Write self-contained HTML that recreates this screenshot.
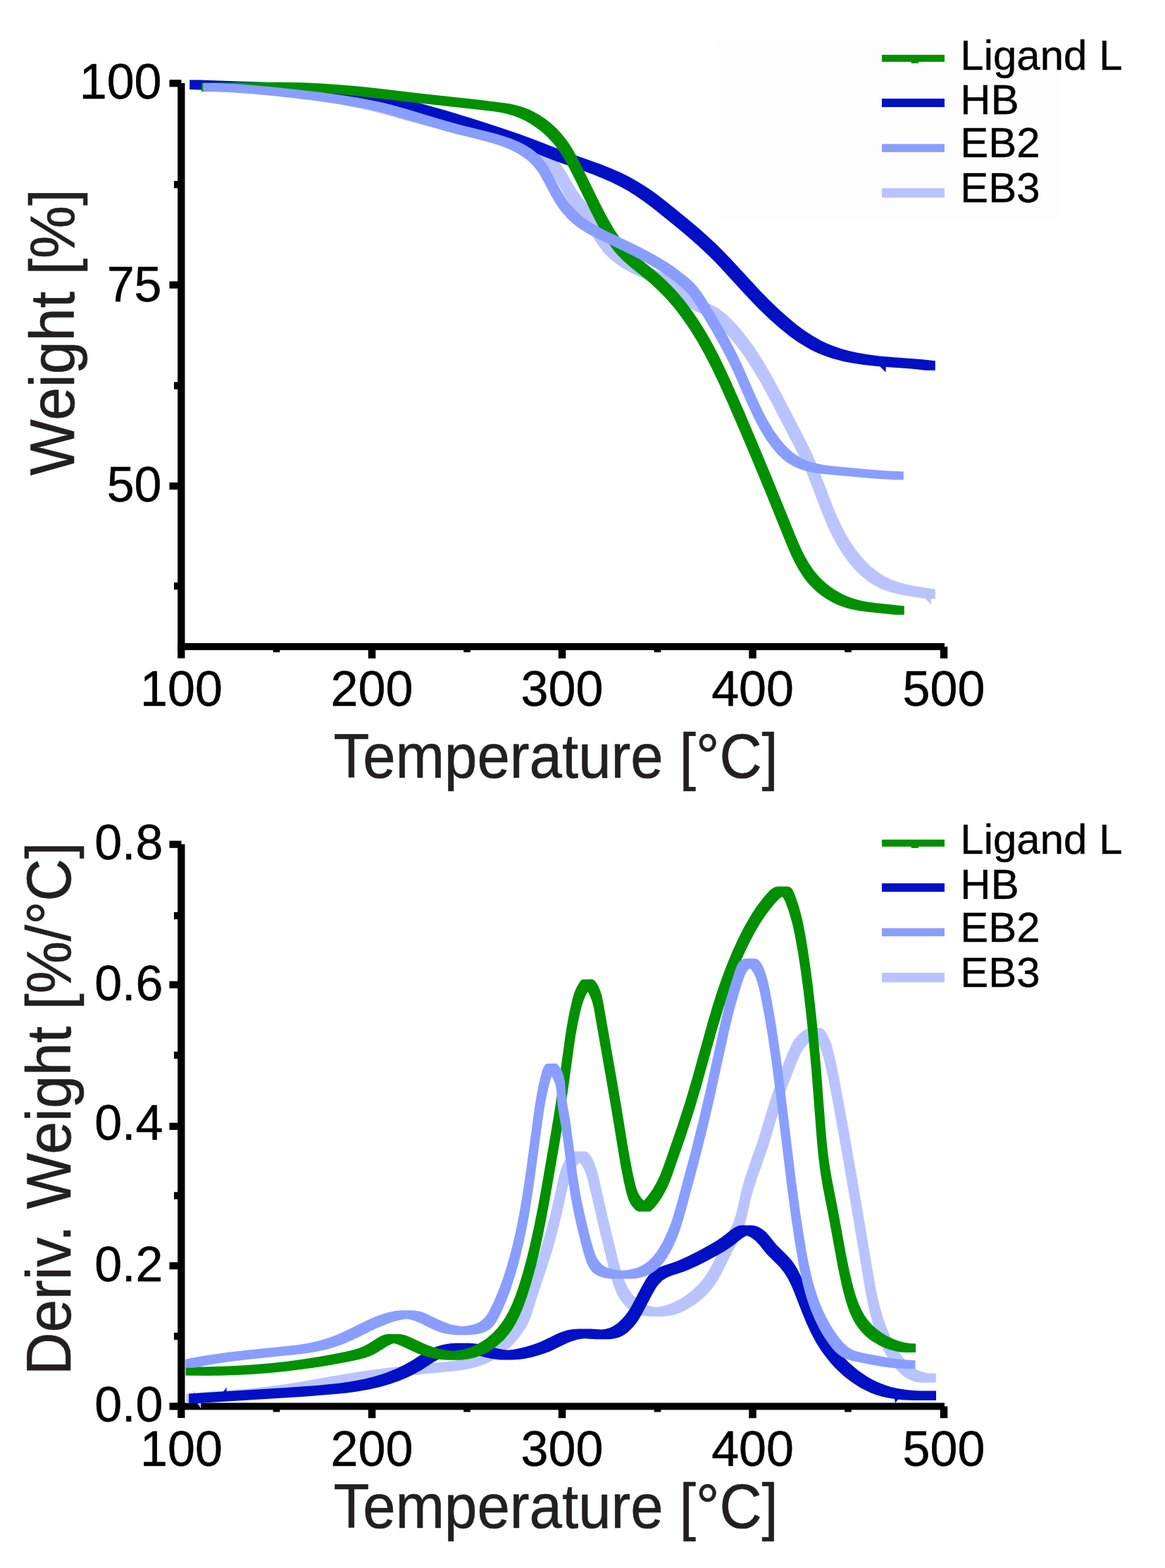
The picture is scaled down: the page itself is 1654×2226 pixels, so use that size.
<!DOCTYPE html>
<html><head><meta charset="utf-8"><style>
html,body{margin:0;padding:0;background:#fff;}
svg{display:block;}
.tk{font-family:"Liberation Sans",sans-serif;font-size:70px;fill:#000;stroke:#000;stroke-width:0.5px;}
.ax{font-family:"Liberation Sans",sans-serif;font-size:84px;fill:#231f20;stroke:#231f20;stroke-width:0.6px;}
.lg{font-family:"Liberation Sans",sans-serif;font-size:60px;fill:#000;stroke:#000;stroke-width:0.4px;}
</style></head><body>
<svg width="1654" height="2226" viewBox="0 0 1654 2226">
<rect width="1654" height="2226" fill="#fff"/>
<rect x="1020.5" y="58.5" width="485" height="255" fill="#fdfdfd"/>
<rect x="252.2" y="118.1" width="10.3" height="816.4" fill="#000"/>
<rect x="252.2" y="913.0" width="1088.8" height="10" fill="#000"/>
<rect x="240.5" y="113.2" width="17" height="10.2" fill="#000"/>
<rect x="240.5" y="399.4" width="17" height="10.2" fill="#000"/>
<rect x="240.5" y="684.9" width="17" height="10.2" fill="#000"/>
<rect x="247" y="256.9" width="10" height="10.2" fill="#000"/>
<rect x="247" y="542.4" width="10" height="10.2" fill="#000"/>
<rect x="247" y="826.9" width="10" height="10.2" fill="#000"/>
<rect x="522.8" y="918.0" width="10.5" height="16.7" fill="#000"/>
<rect x="792.8" y="918.0" width="10.5" height="16.7" fill="#000"/>
<rect x="1063.3" y="918.0" width="10.5" height="16.7" fill="#000"/>
<rect x="1334.8" y="918.0" width="10.5" height="16.7" fill="#000"/>
<rect x="387.7" y="918.0" width="9.6" height="8.0" fill="#000"/>
<rect x="658.2" y="918.0" width="9.6" height="8.0" fill="#000"/>
<rect x="928.7" y="918.0" width="9.6" height="8.0" fill="#000"/>
<rect x="1199.2" y="918.0" width="9.6" height="8.0" fill="#000"/>
<text x="257.5" y="1002.4" text-anchor="middle" class="tk">100</text>
<text x="528.0" y="1002.4" text-anchor="middle" class="tk">200</text>
<text x="798.0" y="1002.4" text-anchor="middle" class="tk">300</text>
<text x="1068.6" y="1002.4" text-anchor="middle" class="tk">400</text>
<text x="1340.0" y="1002.4" text-anchor="middle" class="tk">500</text>
<text x="229.5" y="139.8" text-anchor="end" class="tk">100</text>
<text x="229.5" y="427.9" text-anchor="end" class="tk">75</text>
<text x="229.5" y="711.7" text-anchor="end" class="tk">50</text>
<text transform="translate(473.5,1104) scale(0.993,1.05)" class="ax">Temperature [°C]</text>
<text transform="translate(105,675) rotate(-90) scale(1.005,1.05)" class="ax">Weight [%]</text>
<path d="M305.3 130.3 331.5 131.4 357.5 133.0 383.4 135.2 411.2 138.1 438.9 141.6 466.5 145.6 490.1 149.7 513.6 154.4 527.3 157.5 541.0 161.0 580.1 172.0 595.7 176.1 615.2 180.7 667.5 192.4 682.9 196.3 698.2 200.6 717.2 206.9 726.6 210.4 736.0 214.4 743.4 217.8 750.7 221.5 757.7 225.6 764.4 230.0 770.7 234.9 775.1 238.8 780.6 244.5 784.2 249.1 790.8 259.0 800.8 276.5 805.1 283.4 809.8 290.1 819.5 302.9 825.2 310.9 849.0 347.5 856.5 357.4 860.5 361.9 864.8 366.1 870.8 371.3 877.2 376.0 883.8 380.4 890.7 384.4 897.7 388.0 906.8 392.3 934.4 403.9 939.7 406.5 944.9 409.4 949.8 412.7 953.0 415.1 957.5 419.1 967.7 428.9 974.1 433.8 979.1 437.1 984.3 440.0 1002.1 448.8 1008.8 453.0 1013.5 456.6 1018.0 460.4 1026.5 468.7 1036.0 478.9 1046.1 491.3 1058.0 507.6 1070.0 526.3 1082.2 547.2 1095.5 571.7 1132.1 642.5 1139.2 657.1 1144.0 668.2 1148.6 679.4 1164.2 720.6 1170.1 735.4 1175.5 748.2 1181.5 760.7 1189.0 774.7 1196.4 786.6 1204.7 798.1 1212.5 807.3 1218.1 813.1 1222.4 817.2 1228.6 822.3 1233.3 825.9 1240.0 830.2 1245.2 833.1 1250.6 835.7 1256.2 837.9 1263.9 840.5 1271.7 842.6 1279.7 844.4 1289.8 846.3 1314.2 850.1 1327.8 850.1 1327.8 836.6 1301.3 832.4 1285.2 829.1 1277.4 827.0 1271.6 825.1 1266.0 823.0 1260.5 820.5 1255.2 817.7 1248.5 813.5 1242.1 808.8 1235.9 803.7 1230.1 798.2 1224.6 792.3 1219.4 786.1 1214.5 779.7 1208.8 771.5 1203.5 762.9 1197.7 752.5 1192.4 741.9 1187.4 731.0 1182.8 720.0 1162.8 667.8 1157.5 654.7 1152.7 643.6 1145.6 629.0 1109.9 559.9 1100.5 542.4 1092.7 528.4 1085.6 516.3 1078.1 504.2 1071.5 494.1 1064.5 484.3 1057.2 474.7 1049.5 465.4 1042.8 458.1 1037.2 452.4 1031.5 446.9 1025.4 441.9 1020.7 438.4 1015.6 435.3 997.8 426.5 992.6 423.6 987.6 420.3 981.2 415.4 968.0 402.9 961.7 398.0 956.7 394.9 949.7 391.3 920.3 378.8 911.2 374.5 904.2 370.9 897.3 366.9 890.7 362.5 884.3 357.8 878.3 352.6 874.0 348.4 870.0 343.9 862.5 334.0 838.7 297.4 833.0 289.4 823.3 276.6 818.6 269.9 814.3 263.0 804.3 245.5 797.7 235.6 794.1 231.0 788.6 225.3 784.2 221.4 777.9 216.5 771.2 212.1 764.2 208.0 756.9 204.3 749.5 200.9 740.1 196.9 728.8 192.7 719.3 189.5 707.8 186.0 694.4 182.3 679.1 178.5 628.7 167.2 609.2 162.6 593.6 158.5 558.5 148.5 542.8 144.5 523.2 140.1 501.6 135.8 476.1 131.5 448.5 127.6 420.7 124.2 392.9 121.4 365.0 119.1 338.9 117.6 310.8 116.6 290.2 116.4 290.2 129.9Z" fill="#b9c4ff" fill-rule="evenodd"/>
<polygon points="1313.0,849.0 1322.0,849.0 1321.5,858.3" fill="#b9c4ff"/>
<path d="M269.2 127.0 346.6 129.6 378.7 131.0 410.7 132.8 438.7 134.9 466.5 137.8 492.3 141.2 516.0 145.1 541.5 150.2 572.8 157.5 605.9 166.4 642.6 177.3 688.4 191.8 711.1 199.4 730.0 206.0 788.4 228.4 840.9 247.3 855.6 253.2 868.3 258.8 880.7 265.0 891.2 270.8 901.5 277.2 913.2 285.2 926.3 295.0 940.7 306.4 962.6 324.3 977.7 337.0 991.1 348.8 1004.1 360.9 1013.9 370.6 1023.6 380.7 1056.2 416.3 1068.6 429.4 1081.2 442.2 1094.4 454.7 1108.1 466.7 1120.8 476.9 1132.3 485.2 1144.2 492.6 1151.2 496.4 1158.3 499.9 1165.4 503.1 1174.6 506.5 1182.1 509.0 1191.5 511.6 1199.2 513.4 1209.0 515.3 1224.8 517.7 1245.0 519.9 1293.6 523.6 1314.2 525.7 1327.8 525.7 1327.8 512.2 1307.1 510.1 1266.6 507.1 1248.4 505.4 1230.4 503.1 1214.6 500.3 1205.0 498.1 1197.4 496.0 1188.1 493.0 1180.8 490.3 1173.5 487.2 1166.4 483.9 1159.4 480.1 1152.6 476.0 1142.5 469.4 1131.0 460.9 1118.5 450.6 1106.4 439.8 1093.3 427.3 1080.7 414.5 1037.1 367.2 1019.0 348.7 1007.5 337.9 994.2 326.1 979.1 313.3 957.4 295.4 943.0 284.0 930.0 274.1 918.4 266.0 906.4 258.4 894.2 251.5 881.8 245.3 869.1 239.7 854.4 233.8 801.9 214.9 756.7 197.4 737.9 190.5 711.4 181.4 675.2 169.8 632.9 156.8 598.0 147.0 564.8 138.8 549.1 135.4 533.4 132.3 509.7 128.3 484.0 124.8 458.1 122.0 430.2 119.7 402.2 118.0 368.2 116.4 282.8 113.5 269.2 113.5Z" fill="#0010c4" fill-rule="evenodd"/>
<polygon points="1247.0,518.0 1258.0,518.0 1257.5,528.6" fill="#0010c4"/>
<path d="M358.3 116.7 286.1 117.4 286.1 129.9 362.8 129.2 386.3 129.2 420.2 129.9 452.0 131.4 479.8 133.6 509.6 136.5 591.7 145.9 680.1 155.7 699.7 158.1 711.3 159.8 720.8 161.9 730.2 164.7 739.5 168.4 744.9 171.0 750.3 173.9 758.9 179.4 768.8 186.8 777.8 195.0 786.0 203.9 793.2 213.3 799.6 223.1 805.4 233.3 814.5 250.9 839.6 302.0 848.9 320.0 858.8 337.3 864.2 345.6 868.7 352.0 873.6 358.2 877.5 362.6 885.9 371.1 895.0 379.0 915.6 395.4 924.8 403.2 936.5 414.2 946.2 424.2 957.9 437.8 968.7 452.0 980.0 468.5 990.5 485.5 1000.3 503.0 1010.5 522.8 1020.9 544.6 1033.3 572.3 1050.8 612.8 1069.4 656.8 1089.9 706.6 1116.4 772.1 1122.8 787.0 1128.0 798.0 1132.8 806.8 1138.0 815.3 1142.5 821.8 1147.4 828.0 1152.8 833.8 1158.6 839.2 1166.4 845.5 1174.7 851.0 1181.7 855.0 1188.9 858.4 1196.4 861.3 1202.1 863.2 1209.9 865.2 1217.8 866.8 1227.8 868.3 1271.2 872.8 1283.8 872.8 1283.8 860.3 1244.4 856.3 1228.3 854.0 1218.5 851.8 1210.8 849.5 1203.3 846.7 1196.0 843.4 1190.7 840.6 1183.8 836.4 1177.3 831.8 1172.6 828.0 1166.7 822.7 1162.6 818.4 1158.7 813.9 1153.8 807.7 1148.3 799.4 1143.3 790.8 1138.7 781.9 1133.7 770.8 1128.2 757.7 1097.9 683.0 1078.8 637.0 1057.0 585.6 1038.4 543.2 1029.1 523.0 1020.3 504.8 1011.9 488.8 1003.0 473.0 992.5 456.0 981.2 439.5 970.4 425.3 958.7 411.7 949.0 401.7 937.3 390.7 928.1 382.9 907.5 366.5 898.4 358.6 890.0 350.1 886.1 345.7 881.2 339.5 876.7 333.1 871.3 324.8 861.4 307.5 852.1 289.5 827.0 238.4 817.9 220.8 812.1 210.6 805.7 200.8 798.5 191.4 790.3 182.5 781.3 174.3 773.1 168.1 766.3 163.5 757.4 158.5 750.1 155.1 740.8 151.5 733.3 149.4 723.8 147.3 714.1 145.9 680.7 141.8 604.2 133.4 534.1 125.3 508.2 122.6 484.3 120.4 456.5 118.5 428.7 117.3 398.8 116.7Z" fill="#009000" fill-rule="evenodd"/>

<path d="M304.3 129.9 328.5 131.1 354.6 132.9 382.5 135.5 412.4 138.7 446.0 142.7 471.6 146.2 495.1 149.9 516.7 154.0 534.2 157.8 551.8 162.3 571.2 167.9 629.4 185.3 644.8 189.4 681.5 198.5 697.0 202.7 708.5 206.3 718.0 209.7 727.2 213.7 734.3 217.4 742.7 222.7 749.0 227.6 754.9 233.1 760.2 239.1 763.8 243.8 768.0 250.5 782.9 278.5 788.0 287.2 792.4 294.0 797.2 300.5 802.5 306.6 808.1 312.4 814.1 317.7 818.8 321.4 825.3 326.0 832.0 330.2 838.9 334.1 851.4 340.5 882.4 355.1 900.4 364.0 916.4 372.4 930.2 380.5 943.6 389.2 956.5 398.6 968.7 409.0 973.1 413.1 977.2 417.4 983.3 425.1 990.8 436.7 1010.6 469.5 1025.2 495.7 1033.4 511.6 1041.2 527.8 1060.5 572.0 1067.2 586.6 1073.4 599.2 1080.1 611.5 1087.4 623.4 1095.6 634.8 1103.4 644.0 1107.6 648.2 1112.0 652.2 1116.6 655.9 1121.5 659.1 1126.6 662.0 1131.9 664.5 1137.4 666.6 1143.1 668.3 1149.0 669.8 1156.9 671.3 1165.1 672.5 1175.3 673.6 1239.0 679.2 1264.9 680.8 1271.2 681.0 1282.8 681.0 1282.8 669.5 1260.4 668.4 1234.8 666.4 1182.7 661.7 1172.5 660.4 1164.4 659.1 1156.5 657.3 1150.8 655.7 1145.2 653.7 1139.8 651.4 1136.3 649.6 1131.3 646.6 1126.6 643.2 1122.0 639.4 1117.7 635.3 1113.6 631.0 1105.9 621.7 1097.8 610.2 1090.6 598.3 1084.9 587.7 1078.7 575.1 1072.0 560.5 1053.5 518.1 1045.8 501.9 1037.6 486.0 1031.0 473.7 1023.1 459.7 1003.4 426.9 995.9 415.2 990.0 407.4 986.0 403.0 981.7 398.8 975.7 393.5 969.5 388.4 956.7 378.8 941.7 369.0 927.9 360.9 911.9 352.5 893.9 343.6 862.9 329.0 850.4 322.6 843.5 318.7 836.8 314.5 830.3 309.9 825.6 306.2 819.6 300.9 814.0 295.1 808.7 289.0 803.9 282.5 799.5 275.7 794.4 267.0 779.5 239.0 775.3 232.3 771.7 227.6 766.4 221.6 760.5 216.1 754.2 211.2 745.8 205.9 736.9 201.4 727.6 197.5 718.1 194.2 704.6 190.1 691.1 186.5 658.3 178.4 642.8 174.3 623.5 168.7 578.8 155.2 557.4 149.3 545.7 146.3 532.1 143.3 506.6 138.4 483.1 134.7 455.5 131.0 415.9 126.4 382.1 122.9 356.1 120.7 331.9 119.1 307.7 118.1 288.2 117.9 288.2 129.4Z" fill="#8a9eff" fill-rule="evenodd"/>

<rect x="1252" y="77.8" width="89" height="10.0" fill="#009000"/>
<rect x="1293.7" y="87.3" width="10.2" height="2.5" fill="#009000"/>
<text x="1363.3" y="99.4" class="lg">Ligand L</text>
<rect x="1252" y="140.0" width="89" height="12.0" fill="#0010c4"/>
<text x="1363.3" y="161.9" class="lg">HB</text>
<rect x="1252" y="204.4" width="89" height="11.5" fill="#8a9eff"/>
<text x="1363.3" y="222.9" class="lg">EB2</text>
<rect x="1252" y="267.1" width="89" height="13.5" fill="#b9c4ff"/>
<text x="1363.3" y="287.1" class="lg">EB3</text>
<rect x="252.2" y="1198.5" width="10.3" height="814.5" fill="#000"/>
<rect x="252.2" y="1991.5" width="1088.8" height="10" fill="#000"/>
<rect x="240.5" y="1193.6" width="17" height="10.2" fill="#000"/>
<rect x="240.5" y="1392.9" width="17" height="10.2" fill="#000"/>
<rect x="240.5" y="1593.9" width="17" height="10.2" fill="#000"/>
<rect x="240.5" y="1791.9" width="17" height="10.2" fill="#000"/>
<rect x="240.5" y="1991.4" width="17" height="10.2" fill="#000"/>
<rect x="247" y="1294.9" width="10" height="10.2" fill="#000"/>
<rect x="247" y="1492.9" width="10" height="10.2" fill="#000"/>
<rect x="247" y="1692.3" width="10" height="10.2" fill="#000"/>
<rect x="247" y="1891.9" width="10" height="10.2" fill="#000"/>
<rect x="522.8" y="1996.5" width="10.5" height="16.7" fill="#000"/>
<rect x="792.8" y="1996.5" width="10.5" height="16.7" fill="#000"/>
<rect x="1063.3" y="1996.5" width="10.5" height="16.7" fill="#000"/>
<rect x="1334.8" y="1996.5" width="10.5" height="16.7" fill="#000"/>
<rect x="387.7" y="1996.5" width="9.6" height="8.0" fill="#000"/>
<rect x="658.2" y="1996.5" width="9.6" height="8.0" fill="#000"/>
<rect x="928.7" y="1996.5" width="9.6" height="8.0" fill="#000"/>
<rect x="1199.2" y="1996.5" width="9.6" height="8.0" fill="#000"/>
<text x="257.5" y="2080.7" text-anchor="middle" class="tk">100</text>
<text x="528.0" y="2080.7" text-anchor="middle" class="tk">200</text>
<text x="798.0" y="2080.7" text-anchor="middle" class="tk">300</text>
<text x="1068.6" y="2080.7" text-anchor="middle" class="tk">400</text>
<text x="1340.0" y="2080.7" text-anchor="middle" class="tk">500</text>
<text x="231.5" y="1220.3" text-anchor="end" class="tk">0.8</text>
<text x="231.5" y="1420.0" text-anchor="end" class="tk">0.6</text>
<text x="231.5" y="1617.8" text-anchor="end" class="tk">0.4</text>
<text x="231.5" y="1818.8" text-anchor="end" class="tk">0.2</text>
<text x="231.5" y="2018.0" text-anchor="end" class="tk">0.0</text>
<text transform="translate(473.5,2169) scale(0.993,1.05)" class="ax">Temperature [°C]</text>
<text transform="translate(100,1952) rotate(-90) scale(0.997,1.05)" class="ax">Deriv. Weight [%/°C]</text>
<path d="M430.8 1960.9 399.0 1966.0 371.2 1969.4 343.3 1972.2 289.5 1976.6 264.5 1978.9 264.5 1991.9 277.5 1991.9 300.5 1989.8 360.3 1984.8 394.2 1981.3 410.1 1979.2 427.9 1976.5 503.1 1963.5 540.5 1957.8 584.1 1952.4 608.0 1949.9 642.3 1946.7 654.3 1945.3 668.1 1942.8 675.8 1940.9 681.5 1939.1 687.1 1937.1 692.5 1934.7 697.9 1931.9 703.0 1928.9 709.7 1924.5 717.7 1918.3 723.7 1912.9 730.9 1905.6 737.4 1897.8 743.4 1889.6 747.7 1882.7 751.2 1875.7 754.6 1866.7 762.0 1842.5 777.4 1796.6 785.7 1769.6 789.9 1754.2 794.3 1737.1 799.2 1715.9 806.2 1684.4 808.9 1674.5 811.6 1666.8 814.3 1661.4 816.4 1658.0 818.9 1654.8 822.9 1650.6 826.2 1654.5 829.3 1660.1 832.5 1668.3 835.0 1676.5 852.0 1750.0 865.4 1805.0 869.3 1819.1 872.6 1828.8 875.7 1836.2 879.4 1843.1 883.9 1849.5 887.7 1853.8 891.8 1857.7 896.4 1861.1 901.4 1863.9 906.7 1866.1 910.4 1867.3 916.3 1868.4 922.5 1869.0 941.7 1868.9 947.9 1868.3 956.0 1866.7 961.8 1864.9 969.2 1862.0 976.3 1858.3 985.0 1853.0 990.0 1849.4 994.9 1845.6 1002.4 1838.7 1009.2 1831.4 1012.8 1826.8 1016.1 1822.0 1020.2 1815.5 1024.8 1807.1 1038.0 1780.5 1047.8 1761.9 1051.5 1754.4 1055.4 1745.0 1058.3 1735.5 1060.6 1726.1 1065.6 1703.3 1070.4 1686.1 1075.5 1670.8 1089.0 1632.4 1093.2 1619.0 1106.3 1575.3 1112.0 1558.3 1118.9 1539.5 1132.3 1505.4 1135.7 1497.9 1138.5 1492.5 1141.8 1487.5 1145.8 1482.9 1150.3 1478.8 1156.3 1474.8 1159.2 1478.1 1161.6 1482.0 1164.6 1487.9 1166.9 1493.8 1170.1 1505.3 1175.7 1530.5 1183.0 1568.0 1197.1 1646.9 1209.0 1715.8 1226.6 1820.8 1229.7 1838.7 1232.9 1854.5 1236.2 1868.1 1240.0 1881.6 1243.8 1892.9 1248.2 1903.9 1252.4 1913.0 1258.0 1923.5 1263.3 1932.1 1269.2 1940.2 1274.5 1946.2 1280.3 1951.5 1284.9 1955.0 1290.0 1957.9 1293.5 1959.5 1299.1 1961.4 1303.1 1962.2 1309.3 1962.8 1324.5 1962.8 1328.8 1962.5 1328.8 1949.5 1318.1 1949.5 1314.1 1948.8 1308.3 1947.2 1303.0 1944.9 1297.9 1942.0 1293.3 1938.5 1288.9 1934.6 1284.8 1930.3 1279.8 1924.0 1275.2 1917.4 1271.0 1910.5 1267.2 1903.5 1263.6 1896.4 1260.4 1889.1 1256.8 1879.9 1253.0 1868.6 1249.2 1855.1 1245.9 1841.5 1243.1 1827.7 1239.6 1807.8 1218.3 1681.2 1201.7 1586.6 1191.1 1529.3 1186.7 1507.8 1182.6 1490.4 1179.9 1480.8 1176.7 1473.0 1173.5 1467.0 1170.9 1463.4 1169.5 1461.9 1166.6 1459.8 1165.0 1459.3 1150.4 1459.2 1148.8 1459.4 1145.5 1460.6 1142.2 1462.4 1138.9 1464.6 1135.8 1467.1 1132.8 1469.9 1128.8 1474.5 1125.5 1479.5 1121.8 1486.8 1113.2 1507.6 1104.5 1530.3 1096.5 1552.8 1090.4 1571.7 1077.2 1615.6 1062.5 1657.8 1058.0 1671.2 1055.2 1680.7 1052.6 1690.3 1047.6 1713.1 1045.3 1722.5 1042.4 1732.0 1038.5 1741.4 1034.8 1748.9 1025.0 1767.5 1011.8 1794.1 1007.2 1802.5 1003.1 1809.0 997.4 1816.8 990.9 1824.3 983.4 1831.3 978.7 1835.2 973.7 1838.8 968.6 1842.2 963.3 1845.3 958.0 1848.1 952.6 1850.5 946.9 1852.6 943.0 1853.7 937.0 1855.0 931.5 1855.7 927.3 1855.1 921.5 1853.7 917.9 1852.5 912.7 1850.0 909.4 1848.1 904.8 1844.7 900.7 1840.8 896.9 1836.5 892.4 1830.1 887.9 1821.4 884.2 1812.0 881.1 1802.1 877.4 1787.9 863.2 1729.4 849.1 1667.5 846.9 1659.4 844.0 1651.2 841.3 1645.2 839.2 1641.5 836.7 1638.4 834.0 1636.0 832.5 1635.1 830.9 1634.6 829.4 1634.5 816.4 1634.5 814.8 1634.8 813.2 1635.4 810.1 1637.4 807.2 1640.2 804.6 1643.4 802.3 1646.7 800.4 1650.2 798.6 1653.8 796.5 1659.5 793.2 1671.4 785.8 1704.8 780.8 1726.0 776.9 1741.2 772.7 1756.6 764.4 1783.6 750.3 1825.7 741.6 1853.7 738.9 1860.9 736.5 1866.2 733.7 1871.5 730.4 1876.6 725.7 1883.2 720.6 1889.6 715.1 1895.6 709.3 1901.3 704.7 1905.3 698.4 1910.3 691.7 1914.9 684.9 1918.9 679.5 1921.7 674.1 1924.1 666.6 1926.8 660.9 1928.4 653.2 1930.2 643.3 1932.0 633.3 1933.3 575.1 1939.0 551.2 1941.7 527.5 1944.8 490.1 1950.5Z" fill="#b9c4ff" fill-rule="evenodd"/>
<polygon points="274.4,1974.4 274.4,1981.5 281.0,1981.5" fill="#b9c4ff"/><polygon points="279.0,1990.0 285.3,1990.0 285.3,1999.8" fill="#b9c4ff"/>
<path d="M405.5 1970.1 268.2 1978.5 268.2 1992.0 281.8 1992.0 431.0 1982.8 477.0 1979.1 492.8 1977.4 508.5 1975.3 524.1 1972.5 539.6 1969.0 554.9 1964.6 568.2 1959.8 579.4 1955.1 590.3 1949.6 599.1 1944.4 616.0 1933.5 624.6 1928.7 633.7 1924.9 643.1 1922.3 650.8 1921.0 656.0 1920.5 657.3 1920.5 663.3 1921.2 671.4 1922.6 695.5 1928.4 705.4 1930.1 711.3 1930.5 726.7 1930.6 736.5 1930.1 744.3 1929.1 753.9 1927.0 763.3 1924.4 772.7 1921.4 780.2 1918.7 785.7 1916.3 802.5 1908.0 808.1 1905.5 813.8 1903.4 819.5 1901.8 825.3 1900.7 829.8 1900.3 845.9 1901.2 865.3 1901.2 871.2 1900.6 876.8 1899.3 882.2 1897.2 885.7 1895.2 889.1 1892.9 895.3 1887.6 898.1 1884.6 902.0 1879.9 906.6 1873.4 910.7 1866.6 925.6 1838.3 929.6 1831.2 932.9 1826.1 935.3 1823.0 938.0 1820.2 940.8 1817.6 944.0 1815.4 949.1 1812.7 954.7 1810.5 970.3 1805.4 977.8 1802.5 990.7 1796.7 1004.8 1789.4 1020.5 1781.0 1030.7 1775.0 1039.1 1769.3 1053.8 1757.8 1057.1 1755.7 1060.5 1754.2 1065.0 1756.1 1068.4 1758.2 1071.7 1760.7 1074.6 1763.5 1078.7 1768.1 1085.0 1776.1 1088.9 1780.7 1106.0 1797.7 1109.9 1802.2 1113.5 1806.9 1118.6 1815.3 1123.1 1824.3 1127.1 1833.6 1138.8 1863.6 1144.9 1878.3 1151.5 1892.6 1158.1 1904.9 1162.2 1911.7 1166.6 1918.4 1175.1 1929.8 1180.3 1936.0 1185.8 1941.9 1196.1 1951.8 1202.4 1957.0 1208.8 1961.8 1215.5 1966.3 1222.3 1970.4 1229.4 1974.1 1236.6 1977.4 1244.0 1980.2 1251.5 1982.4 1259.1 1984.2 1266.9 1985.6 1274.8 1986.7 1282.8 1987.4 1299.0 1988.0 1329.0 1988.0 1329.0 1974.5 1306.4 1974.4 1296.3 1973.9 1288.3 1973.2 1280.4 1972.1 1272.6 1970.7 1265.0 1968.9 1259.3 1967.3 1251.9 1964.6 1244.7 1961.5 1237.6 1957.9 1230.7 1953.9 1223.9 1949.5 1217.4 1944.7 1211.2 1939.6 1205.1 1934.2 1195.2 1924.0 1186.1 1913.1 1177.8 1901.6 1173.6 1894.8 1169.6 1887.9 1163.3 1875.6 1157.6 1862.9 1151.5 1848.2 1140.6 1820.1 1136.6 1810.8 1132.1 1801.8 1127.0 1793.4 1123.4 1788.7 1119.5 1784.2 1102.4 1767.2 1090.9 1753.0 1086.7 1748.6 1081.9 1744.7 1076.7 1741.8 1071.3 1739.9 1067.6 1739.5 1052.3 1739.5 1048.8 1740.1 1045.3 1741.4 1042.0 1743.2 1038.7 1745.5 1025.6 1755.8 1017.2 1761.5 1007.0 1767.5 989.6 1776.9 977.2 1783.2 966.2 1788.2 956.8 1791.9 943.1 1796.4 937.5 1798.5 932.1 1801.0 928.9 1803.0 925.9 1805.4 923.1 1808.1 920.6 1811.1 917.2 1816.0 912.1 1824.8 897.2 1853.1 893.1 1859.9 888.5 1866.4 883.2 1872.6 877.2 1878.2 873.9 1880.6 870.5 1882.7 865.2 1885.2 859.6 1886.7 854.2 1887.5 839.2 1886.6 821.7 1886.6 813.8 1887.0 806.0 1888.3 800.3 1889.9 794.6 1892.0 789.0 1894.5 772.2 1902.8 766.7 1905.2 759.2 1907.9 749.8 1910.9 740.4 1913.5 730.8 1915.6 723.0 1916.6 720.8 1916.8 712.9 1915.7 707.0 1914.5 684.9 1909.1 678.8 1908.0 672.8 1907.2 664.7 1906.8 647.2 1906.7 639.3 1907.2 631.5 1908.4 625.8 1909.7 620.2 1911.4 611.1 1915.2 602.5 1920.0 587.3 1929.9 580.3 1934.1 573.2 1938.0 564.0 1942.4 556.6 1945.6 547.1 1949.2 539.5 1951.7 530.0 1954.5 518.4 1957.4 506.7 1959.8 495.0 1961.8 481.3 1963.7 451.5 1966.7Z" fill="#0010c4" fill-rule="evenodd"/>
<polygon points="315.5,1978.0 321.6,1969.5 321.6,1978.0" fill="#0010c4"/><polygon points="1270.0,1985.5 1276.5,1984.5 1271.0,1992.0" fill="#0010c4"/>
<path d="M453.2 1926.0 429.5 1929.7 405.7 1932.9 381.8 1935.5 357.8 1937.6 333.8 1939.1 309.8 1940.1 288.0 1940.5 263.6 1940.3 263.6 1952.8 294.2 1953.0 314.3 1952.8 336.3 1952.1 358.3 1950.9 380.3 1949.3 404.3 1947.0 428.1 1944.1 451.9 1940.7 471.6 1937.4 493.1 1933.4 508.7 1930.2 518.3 1927.7 525.8 1925.0 531.2 1922.5 536.6 1919.5 550.4 1910.7 555.6 1908.2 558.9 1907.1 562.9 1908.1 568.6 1910.2 591.8 1920.9 603.7 1925.3 611.7 1927.5 619.7 1929.2 627.6 1930.3 635.5 1930.7 652.0 1930.7 657.8 1930.3 665.5 1929.3 673.1 1927.6 680.5 1925.1 689.4 1921.2 698.0 1916.2 706.0 1910.4 710.5 1906.6 714.8 1902.5 718.8 1898.1 722.5 1893.5 726.0 1888.7 730.3 1882.0 733.2 1876.8 736.9 1869.6 742.5 1856.5 748.1 1841.1 754.7 1819.6 761.1 1796.2 768.0 1767.0 774.4 1735.8 780.5 1702.6 791.8 1637.8 798.5 1598.2 803.5 1566.4 807.6 1538.6 814.6 1487.0 817.0 1471.1 819.4 1457.3 823.1 1439.5 826.6 1425.8 830.0 1416.5 832.6 1411.3 834.5 1408.1 837.3 1413.1 839.9 1419.5 841.8 1425.7 843.5 1433.4 867.1 1568.9 880.8 1652.3 885.7 1677.7 890.2 1696.8 892.8 1704.2 895.6 1709.7 899.6 1715.1 902.7 1718.0 904.3 1719.1 906.0 1719.8 907.7 1720.1 921.8 1720.0 923.4 1719.4 925.0 1718.3 928.0 1715.5 933.4 1708.9 939.3 1700.5 943.3 1693.6 946.9 1686.5 950.9 1677.4 954.5 1668.1 973.5 1613.2 985.9 1575.1 995.5 1542.4 1016.9 1465.3 1027.3 1430.8 1032.9 1413.6 1038.2 1398.5 1043.9 1383.4 1050.0 1368.5 1057.3 1352.1 1064.2 1337.7 1071.6 1323.8 1079.7 1310.1 1088.7 1296.8 1097.5 1285.4 1104.6 1277.4 1107.7 1274.7 1110.4 1272.9 1112.5 1275.3 1115.2 1280.7 1119.4 1292.5 1123.0 1304.3 1126.1 1316.1 1128.6 1327.9 1133.5 1355.4 1137.0 1379.1 1140.5 1404.9 1143.8 1432.7 1146.8 1460.5 1152.4 1522.4 1159.9 1620.2 1162.0 1642.1 1164.2 1660.0 1168.0 1683.9 1177.3 1731.4 1189.5 1798.2 1195.3 1825.4 1198.2 1837.1 1200.8 1846.7 1203.9 1856.2 1207.4 1865.4 1210.8 1872.5 1214.6 1879.4 1219.1 1885.8 1224.2 1891.9 1228.4 1896.2 1234.7 1901.4 1241.6 1906.1 1248.9 1910.2 1258.5 1914.5 1266.4 1917.0 1274.4 1918.9 1280.3 1919.7 1286.1 1920.0 1300.2 1920.0 1300.2 1907.5 1292.8 1907.2 1284.9 1906.0 1276.9 1904.0 1267.2 1900.4 1257.7 1895.8 1250.6 1891.3 1244.0 1886.3 1238.0 1880.8 1234.0 1876.4 1230.4 1871.7 1227.1 1866.9 1223.3 1860.0 1219.9 1852.9 1217.0 1845.6 1214.5 1838.1 1211.7 1828.5 1206.4 1807.1 1201.2 1781.7 1189.8 1718.9 1180.5 1671.4 1178.5 1659.5 1176.4 1645.5 1174.3 1627.6 1172.4 1607.7 1164.9 1509.9 1159.5 1450.0 1156.5 1422.1 1153.5 1396.3 1150.1 1370.6 1146.6 1346.9 1144.0 1331.1 1141.5 1317.4 1139.0 1305.6 1136.6 1295.8 1133.2 1284.0 1129.2 1272.2 1126.0 1264.5 1123.9 1261.3 1122.7 1260.2 1121.2 1259.3 1119.7 1258.8 1118.0 1258.5 1103.8 1258.6 1102.0 1258.8 1098.5 1260.1 1095.2 1262.2 1092.1 1264.9 1086.4 1271.2 1079.8 1279.4 1073.8 1287.6 1068.2 1295.9 1063.1 1304.4 1057.2 1314.7 1051.7 1325.2 1046.5 1336.0 1039.0 1352.4 1031.4 1370.9 1024.4 1389.8 1017.2 1410.6 1011.2 1429.8 1004.9 1450.9 983.0 1529.9 973.4 1562.6 961.7 1598.8 942.7 1653.7 939.2 1663.0 936.1 1670.4 932.7 1677.5 929.9 1682.8 925.7 1689.7 922.1 1694.8 918.3 1699.7 914.0 1704.5 910.6 1700.9 908.1 1697.2 906.1 1693.6 904.5 1689.9 903.2 1686.1 901.7 1680.5 897.4 1661.3 891.6 1629.9 882.6 1574.1 876.9 1540.7 856.7 1424.7 854.3 1413.2 852.4 1407.0 849.8 1400.6 846.4 1394.7 843.7 1391.8 842.3 1390.8 840.8 1390.3 827.0 1390.5 825.6 1391.2 824.4 1392.4 822.1 1395.5 819.2 1400.5 816.7 1405.8 814.7 1411.4 812.5 1419.2 808.1 1438.9 805.5 1452.7 802.9 1468.5 792.8 1542.0 788.5 1569.8 783.0 1603.5 769.8 1680.3 764.2 1711.6 758.4 1740.8 752.4 1768.1 747.6 1787.6 742.8 1805.2 737.5 1822.7 732.2 1838.3 727.7 1849.7 722.6 1860.7 717.8 1869.5 712.4 1877.8 706.3 1885.6 699.4 1892.7 691.9 1899.2 685.5 1903.7 676.9 1908.7 669.8 1911.9 660.6 1915.1 653.0 1916.8 643.2 1918.0 634.2 1917.0 626.2 1915.5 618.2 1913.4 608.3 1910.0 600.4 1906.7 583.0 1898.5 575.4 1895.6 569.9 1894.3 566.2 1893.9 551.9 1893.8 546.6 1894.5 541.3 1896.4 536.2 1899.2 525.8 1905.9 520.5 1909.1 515.1 1911.8 507.7 1914.6 500.0 1916.8 490.4 1919.0 472.8 1922.4Z" fill="#009000" fill-rule="evenodd"/>

<path d="M453.5 1903.2 438.1 1906.7 422.5 1909.2 404.7 1911.3 350.6 1916.7 322.4 1919.9 294.6 1923.9 271.1 1928.0 263.3 1929.7 263.3 1941.7 275.3 1941.7 298.7 1937.2 324.4 1933.2 356.5 1929.4 426.6 1922.2 444.3 1919.7 457.9 1917.1 465.5 1915.2 473.1 1913.1 480.6 1910.6 488.1 1907.8 502.8 1901.3 533.7 1886.1 548.5 1879.9 555.9 1877.3 561.6 1875.6 569.2 1873.8 575.1 1872.8 577.5 1872.6 580.6 1873.0 584.5 1873.8 588.4 1874.9 596.0 1878.1 610.9 1885.6 619.9 1889.5 625.4 1891.4 630.9 1892.9 640.5 1894.6 648.7 1895.2 662.8 1895.2 669.3 1894.9 675.8 1894.2 682.0 1892.9 687.7 1891.2 692.6 1888.8 696.9 1885.7 699.5 1883.3 702.0 1880.4 706.3 1873.6 712.9 1860.3 719.3 1845.3 724.9 1830.4 730.4 1813.5 735.4 1796.4 740.3 1777.1 743.9 1761.6 747.5 1743.9 750.8 1726.1 754.1 1706.2 758.9 1674.3 769.5 1595.2 773.3 1569.9 775.5 1558.0 778.2 1545.8 781.4 1533.3 783.3 1527.9 785.2 1531.2 786.9 1534.9 788.2 1538.6 789.5 1544.3 790.3 1550.0 791.4 1565.4 792.3 1573.2 798.6 1611.1 807.4 1679.4 810.1 1697.0 812.9 1712.4 816.0 1727.8 819.5 1743.3 828.1 1777.2 831.8 1789.3 834.0 1794.9 835.8 1798.5 838.9 1803.2 841.3 1805.9 844.1 1808.3 848.7 1811.1 854.0 1813.1 859.8 1814.4 865.9 1815.3 872.2 1815.6 894.9 1815.5 903.3 1814.9 909.2 1813.8 914.9 1812.2 921.9 1809.3 926.8 1806.4 932.9 1801.9 937.1 1797.9 942.3 1791.9 947.0 1785.2 952.3 1776.3 956.9 1767.1 960.9 1757.8 964.5 1748.5 968.2 1737.1 972.6 1721.9 990.9 1654.2 1003.2 1606.0 1014.1 1559.2 1035.1 1463.3 1039.2 1446.1 1043.1 1430.7 1049.8 1407.3 1056.5 1387.1 1058.1 1383.2 1060.0 1379.6 1062.4 1376.6 1064.7 1374.8 1067.1 1377.2 1070.3 1382.2 1073.0 1388.2 1075.1 1394.3 1077.4 1402.2 1079.2 1410.0 1084.9 1439.3 1090.5 1472.7 1096.3 1512.4 1102.1 1558.2 1118.1 1689.4 1123.7 1731.0 1129.4 1768.7 1134.9 1800.3 1140.0 1823.8 1143.1 1835.4 1145.9 1844.9 1149.8 1856.3 1153.4 1865.6 1158.3 1876.6 1163.8 1887.4 1170.0 1897.9 1175.8 1906.6 1180.8 1913.2 1186.2 1919.2 1192.1 1924.3 1196.7 1927.3 1203.4 1930.1 1210.6 1932.1 1235.1 1936.9 1251.8 1939.9 1265.3 1941.7 1276.7 1942.7 1287.5 1943.3 1299.5 1943.3 1299.5 1931.3 1286.8 1930.6 1273.5 1929.2 1259.8 1927.2 1242.8 1924.1 1226.4 1920.9 1218.9 1919.2 1212.0 1916.9 1208.7 1915.3 1205.6 1913.4 1201.1 1909.9 1195.4 1904.3 1190.2 1897.9 1184.3 1889.4 1178.8 1880.7 1173.0 1870.0 1168.6 1860.9 1163.9 1849.9 1160.5 1840.5 1157.4 1831.0 1154.6 1821.4 1151.6 1809.8 1146.5 1786.3 1141.1 1754.7 1135.7 1719.0 1130.1 1677.4 1113.9 1544.2 1108.0 1498.5 1101.9 1456.8 1095.5 1419.4 1092.1 1401.9 1089.9 1392.2 1087.7 1384.3 1085.0 1376.2 1082.3 1370.2 1079.1 1365.2 1076.6 1362.7 1075.2 1361.8 1072.2 1360.7 1058.5 1360.7 1056.8 1360.9 1053.4 1362.3 1050.4 1364.6 1048.0 1367.6 1046.1 1371.2 1043.8 1377.2 1036.0 1401.2 1032.1 1414.8 1028.6 1428.3 1022.2 1455.2 1002.6 1545.2 992.1 1590.1 980.4 1636.4 961.2 1708.0 957.4 1721.3 953.8 1732.7 949.6 1744.0 945.7 1753.2 941.2 1762.4 936.1 1771.4 931.5 1778.3 926.4 1784.5 920.9 1789.9 916.4 1793.4 911.6 1796.4 906.5 1798.9 902.9 1800.2 897.2 1801.8 891.3 1802.9 882.9 1803.5 880.0 1803.4 873.8 1802.8 867.9 1801.6 862.5 1799.8 859.1 1798.2 854.6 1795.2 852.1 1792.6 849.8 1789.7 846.9 1784.7 844.5 1779.2 842.4 1773.3 835.9 1749.0 828.9 1719.6 823.4 1692.7 819.1 1665.4 810.6 1599.1 804.3 1561.2 803.4 1553.4 802.1 1536.1 800.7 1528.5 798.9 1522.9 797.2 1519.2 793.9 1513.7 791.1 1510.5 789.6 1509.8 776.2 1509.9 774.8 1510.7 772.5 1513.5 771.6 1515.3 770.1 1519.2 766.2 1533.8 762.7 1550.0 758.6 1575.4 747.5 1658.3 741.8 1696.2 738.5 1716.1 735.1 1733.9 731.5 1751.5 727.9 1767.1 723.4 1784.4 719.0 1799.6 714.2 1814.6 709.5 1827.7 703.4 1842.6 697.2 1855.9 693.3 1863.4 691.1 1866.8 688.8 1869.9 686.3 1872.5 683.5 1874.8 680.6 1876.8 675.7 1879.2 672.0 1880.4 665.9 1881.8 656.5 1883.0 650.6 1882.3 644.8 1881.3 639.2 1879.9 633.7 1878.1 622.9 1873.6 604.2 1864.4 600.4 1862.9 596.5 1861.8 590.7 1860.7 584.8 1860.3 568.9 1860.3 561.1 1861.1 555.3 1862.2 547.7 1864.1 542.1 1865.9 534.6 1868.6 519.9 1875.0 492.6 1888.4 479.8 1894.3 466.8 1899.3Z" fill="#8a9eff" fill-rule="evenodd"/>

<rect x="1252" y="1191.9" width="89" height="10.0" fill="#009000"/>
<rect x="1293.7" y="1201.4" width="10.2" height="2.5" fill="#009000"/>
<text x="1363.3" y="1212.1" class="lg">Ligand L</text>
<rect x="1252" y="1254.0" width="89" height="12.0" fill="#0010c4"/>
<text x="1363.3" y="1276.1" class="lg">HB</text>
<rect x="1252" y="1317.7" width="89" height="11.5" fill="#8a9eff"/>
<text x="1363.3" y="1336.8" class="lg">EB2</text>
<rect x="1252" y="1381.0" width="89" height="13.5" fill="#b9c4ff"/>
<text x="1363.3" y="1401.0" class="lg">EB3</text>
</svg>
</body></html>
